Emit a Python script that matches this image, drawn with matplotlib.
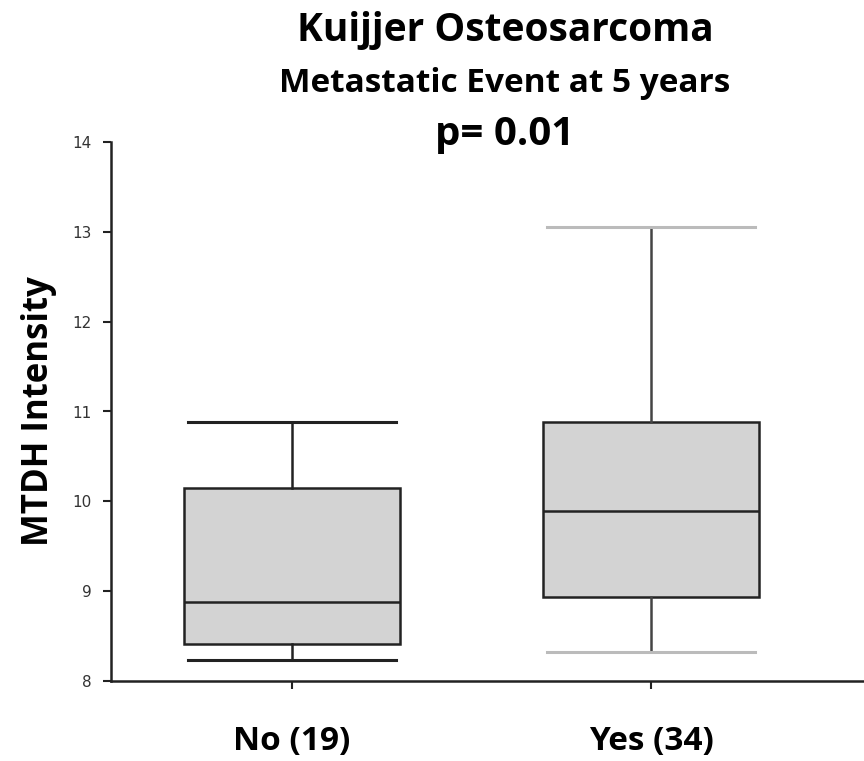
import matplotlib
matplotlib.use("Agg")
import matplotlib.pyplot as plt

categories = ["No (19)", "Yes (34)"]
whisker_low = [8.23, 8.32]
q1 = [8.41, 8.94]
median = [8.88, 9.89]
q3 = [10.15, 10.88]
whisker_high = [10.88, 13.05]
cap_colors = ["#222222", "#bbbbbb"]
whisker_colors = ["#222222", "#444444"]

fig = plt.figure(figsize=(8.64, 7.61), dpi=100)
ax = fig.add_axes([111/864, 1 - 681/761, 1 - 111/864, (681 - 142)/761])

stats = []
for i, c in enumerate(categories):
    stats.append(dict(label=c, whislo=whisker_low[i], q1=q1[i], med=median[i],
                      q3=q3[i], whishi=whisker_high[i], fliers=[]))

bp = ax.bxp(stats, positions=[1, 2], widths=0.6, patch_artist=True, showfliers=False)
for b in bp["boxes"]:
    b.set_facecolor("#d3d3d3")
    b.set_edgecolor("#222222")
    b.set_linewidth(1.8)
for m in bp["medians"]:
    m.set_color("#222222")
    m.set_linewidth(1.8)
for i, w in enumerate(bp["whiskers"]):
    w.set_color(whisker_colors[i // 2])
    w.set_linewidth(1.8)
for i, cp in enumerate(bp["caps"]):
    cp.set_color(cap_colors[i // 2])
    cp.set_linewidth(2.2)
    x0, x1 = cp.get_xdata()
    xc = (x0 + x1) / 2
    cp.set_xdata([xc - 0.29, xc + 0.29])

ax.set_xlim(1 - 181/359, 2 + 213/359)
ax.set_ylim(8, 14)
ax.set_yticks([8, 9, 10, 11, 12, 13, 14])
ax.spines["top"].set_visible(False)
ax.spines["right"].set_visible(False)
for s in ["left", "bottom"]:
    ax.spines[s].set_linewidth(1.8)
    ax.spines[s].set_color("#222222")
ax.tick_params(axis="y", direction="out", length=6, width=1.5, colors="#222222",
               labelsize=11, labelcolor="#333333", pad=8)
ax.tick_params(axis="x", direction="out", length=6, width=1.5, colors="#222222", pad=26)
ax.set_xticks([1, 2])
ax.set_xticklabels(categories, fontfamily="Open Sans", fontweight="bold", fontsize=24,
                   color="black")

ax.set_ylabel("MTDH Intensity", fontfamily="Open Sans", fontweight="bold", fontsize=25,
              labelpad=11)

fig.text(505/864, 1 - 31/761, "Kuijjer Osteosarcoma", ha="center", va="center",
         fontfamily="Open Sans", fontweight="bold", fontsize=28)
fig.text(505/864, 1 - 84/761, "Metastatic Event at 5 years", ha="center", va="center",
         fontfamily="Open Sans", fontweight="bold", fontsize=24)
fig.text(505/864, 1 - 135/761, "p= 0.01", ha="center", va="center",
         fontfamily="Open Sans", fontweight="bold", fontsize=29)

fig.savefig("out.png", dpi=100)
